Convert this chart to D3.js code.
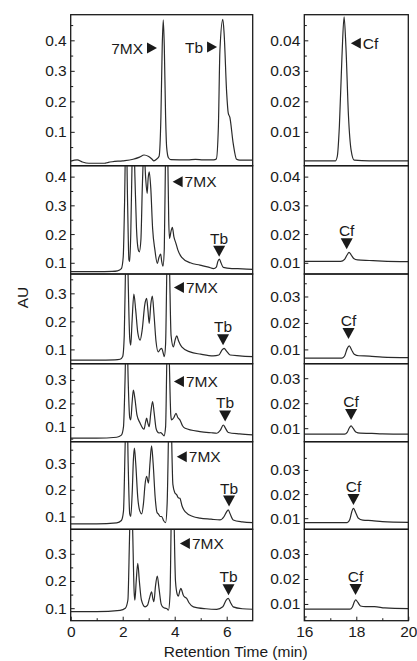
<!DOCTYPE html>
<html>
<head>
<meta charset="utf-8">
<script src="https://cdn.jsdelivr.net/npm/d3@7"></script>
<style>
  body { margin: 0; background: #fff; }
  text { font-family: "Liberation Sans", Arial, sans-serif; fill: #1a1a1a; }
</style>
</head>
<body>
<div id="chart-area"></div>
<script>
// ---- data: [retention time (min), AU] ----
const leftTrace1 = [[0,0.004],[0.25,0.008],[0.45,0.001],[0.7,-0.003],[1.3,-0.003],[1.45,0.0],[1.6,0.002],[2.0,0.005],[2.4,0.01],[2.65,0.017],[2.82,0.024],[3.0,0.019],[3.12,0.011],[3.2,0.005],[3.3,0.01],[3.4,0.02],[3.47,0.15],[3.52,0.38],[3.56,0.467],[3.6,0.38],[3.65,0.15],[3.69,0.05],[3.76,0.015],[3.85,0.009],[4.5,0.008],[4.8,0.01],[5.1,0.008],[5.5,0.008],[5.6,0.011],[5.68,0.117],[5.74,0.368],[5.85,0.469],[5.9,0.423],[6.0,0.226],[6.06,0.161],[6.12,0.148],[6.25,0.062],[6.38,0.01],[6.5,0.007],[7,0.007]];
const leftTrace2 = [[0,0.069],[1.0,0.069],[1.6,0.07],[1.8,0.072],[1.95,0.08],[2.02,0.12],[2.07,0.3],[2.13,0.6],[2.19,0.3],[2.24,0.11],[2.27,0.105],[2.31,0.2],[2.36,0.45],[2.41,0.6],[2.47,0.4],[2.53,0.22],[2.6,0.145],[2.64,0.138],[2.7,0.18],[2.76,0.38],[2.82,0.5],[2.88,0.4],[2.94,0.342],[2.98,0.395],[3.02,0.417],[3.08,0.36],[3.15,0.22],[3.24,0.144],[3.33,0.098],[3.4,0.12],[3.46,0.13],[3.5,0.105],[3.55,0.088],[3.6,0.15],[3.65,0.5],[3.69,0.7],[3.73,0.5],[3.77,0.25],[3.8,0.185],[3.86,0.21],[3.91,0.223],[3.97,0.19],[4.05,0.167],[4.12,0.145],[4.27,0.119],[4.6,0.1],[4.97,0.092],[5.3,0.085],[5.5,0.08],[5.6,0.085],[5.66,0.105],[5.72,0.113],[5.78,0.1],[5.87,0.084],[6.2,0.08],[6.6,0.079],[7,0.077]];
const leftTrace3 = [[0,0.062],[1.0,0.062],[1.7,0.063],[1.9,0.065],[2.0,0.075],[2.06,0.15],[2.11,0.4],[2.16,0.6],[2.21,0.35],[2.27,0.14],[2.31,0.115],[2.36,0.2],[2.43,0.297],[2.5,0.24],[2.58,0.16],[2.67,0.133],[2.75,0.17],[2.85,0.26],[2.92,0.282],[2.97,0.24],[3.02,0.193],[3.08,0.26],[3.14,0.29],[3.2,0.23],[3.28,0.13],[3.37,0.091],[3.44,0.1],[3.5,0.104],[3.55,0.09],[3.6,0.074],[3.65,0.12],[3.7,0.4],[3.75,0.6],[3.8,0.4],[3.86,0.15],[3.95,0.109],[4.02,0.135],[4.08,0.148],[4.15,0.13],[4.27,0.109],[4.59,0.091],[5.0,0.083],[5.48,0.077],[5.7,0.08],[5.8,0.095],[5.9,0.104],[6.0,0.093],[6.13,0.08],[6.5,0.077],[7,0.074]];
const leftTrace4 = [[0,0.052],[1.0,0.052],[1.77,0.056],[1.95,0.065],[2.03,0.1],[2.09,0.3],[2.15,0.6],[2.21,0.3],[2.27,0.14],[2.31,0.13],[2.36,0.2],[2.41,0.257],[2.47,0.22],[2.55,0.15],[2.67,0.116],[2.82,0.09],[2.88,0.12],[2.92,0.137],[2.97,0.115],[3.02,0.101],[3.08,0.16],[3.15,0.208],[3.21,0.16],[3.28,0.095],[3.33,0.08],[3.4,0.074],[3.46,0.076],[3.52,0.07],[3.59,0.062],[3.65,0.1],[3.7,0.4],[3.75,0.6],[3.8,0.35],[3.85,0.15],[3.88,0.13],[3.97,0.14],[4.05,0.158],[4.12,0.14],[4.2,0.13],[4.3,0.105],[4.4,0.094],[4.97,0.08],[5.4,0.075],[5.62,0.073],[5.75,0.085],[5.87,0.108],[5.95,0.095],[6.06,0.076],[6.5,0.07],[7,0.066]];
const leftTrace5 = [[0,0.072],[1.0,0.072],[1.77,0.076],[1.95,0.085],[2.03,0.12],[2.09,0.35],[2.15,0.6],[2.21,0.3],[2.27,0.11],[2.31,0.1],[2.37,0.2],[2.41,0.31],[2.45,0.356],[2.5,0.3],[2.58,0.17],[2.66,0.12],[2.73,0.11],[2.8,0.15],[2.86,0.22],[2.92,0.25],[2.99,0.225],[3.05,0.3],[3.11,0.364],[3.17,0.3],[3.25,0.17],[3.32,0.115],[3.37,0.11],[3.44,0.1],[3.5,0.1],[3.57,0.085],[3.65,0.077],[3.71,0.15],[3.77,0.45],[3.82,0.65],[3.87,0.45],[3.93,0.22],[4.0,0.19],[4.08,0.181],[4.14,0.17],[4.2,0.168],[4.28,0.14],[4.4,0.118],[4.7,0.1],[4.97,0.094],[5.4,0.09],[5.74,0.087],[5.9,0.1],[6.0,0.118],[6.06,0.125],[6.13,0.11],[6.25,0.087],[6.6,0.08],[7,0.077]];
const leftTrace6 = [[0,0.087],[1.0,0.087],[1.9,0.092],[2.1,0.1],[2.2,0.13],[2.26,0.35],[2.32,0.6],[2.38,0.4],[2.44,0.16],[2.47,0.13],[2.52,0.2],[2.58,0.265],[2.64,0.2],[2.72,0.13],[2.86,0.105],[2.95,0.11],[3.04,0.14],[3.11,0.16],[3.16,0.135],[3.2,0.124],[3.26,0.18],[3.33,0.218],[3.4,0.17],[3.48,0.115],[3.56,0.103],[3.63,0.1],[3.69,0.099],[3.76,0.093],[3.82,0.15],[3.87,0.45],[3.92,0.65],[3.97,0.45],[4.03,0.2],[4.1,0.15],[4.14,0.144],[4.2,0.165],[4.24,0.173],[4.29,0.16],[4.33,0.148],[4.4,0.14],[4.46,0.136],[4.55,0.12],[4.72,0.105],[5.2,0.098],[5.62,0.096],[5.85,0.105],[5.98,0.13],[6.06,0.136],[6.14,0.122],[6.25,0.105],[6.6,0.098],[7,0.096]];

const rightTrace1 = [[16,0.0005],[17.2,0.0005],[17.27,0.002],[17.35,0.012],[17.45,0.035],[17.53,0.0477],[17.6,0.038],[17.7,0.015],[17.8,0.004],[17.92,0.0007],[18.5,0.0005],[20,0.0005]];
const rightTrace2 = [[16,0.0105],[17.4,0.0105],[17.55,0.0112],[17.65,0.0128],[17.72,0.0136],[17.8,0.0128],[17.9,0.0115],[18.05,0.011],[18.5,0.0108],[19,0.0106],[20,0.0104]];
const rightTrace3 = [[16,0.0067],[17.45,0.0067],[17.55,0.0075],[17.65,0.0103],[17.73,0.0113],[17.82,0.0098],[17.92,0.0082],[18.1,0.0076],[18.5,0.0075],[19,0.0071],[20,0.0069]];
const rightTrace4 = [[16,0.0076],[17.55,0.0076],[17.65,0.0083],[17.73,0.0101],[17.8,0.0109],[17.88,0.0099],[17.98,0.0085],[18.15,0.008],[18.6,0.0079],[19,0.0077],[20,0.0076]];
const rightTrace5 = [[16,0.0082],[17.65,0.0082],[17.75,0.0095],[17.83,0.0128],[17.89,0.0141],[17.97,0.0125],[18.07,0.0101],[18.25,0.0092],[18.6,0.009],[19,0.0086],[20,0.0083]];
const rightTrace6 = [[16,0.0079],[17.75,0.0079],[17.85,0.0088],[17.93,0.011],[17.98,0.0116],[18.06,0.0106],[18.16,0.0092],[18.35,0.0089],[18.7,0.0089],[19.1,0.0084],[20,0.0081]];

const leftTraces = [leftTrace1, leftTrace2, leftTrace3, leftTrace4, leftTrace5, leftTrace6];
const rightTraces = [rightTrace1, rightTrace2, rightTrace3, rightTrace4, rightTrace5, rightTrace6];

// y ranges of each stacked panel (AU)
const leftDomains = [[-0.011, 0.484], [0.061, 0.438], [0.049, 0.369], [0.037, 0.369], [0.052, 0.38], [0.054, 0.39]];
const rightDomains = [[-0.0011, 0.0484], [0.0061, 0.0438], [0.0046, 0.0385], [0.0046, 0.0358], [0.0054, 0.0417], [0.0033, 0.0399]];

// tick labels
const leftMajorTicks = [[0.1, 0.2, 0.3, 0.4], [0.1, 0.2, 0.3, 0.4], [0.1, 0.2, 0.3], [0.1, 0.2, 0.3], [0.1, 0.2, 0.3], [0.1, 0.2, 0.3]];
const rightMajorTicks = [[0.01, 0.02, 0.03, 0.04], [0.01, 0.02, 0.03, 0.04], [0.01, 0.02, 0.03], [0.01, 0.02, 0.03], [0.01, 0.02, 0.03], [0.01, 0.02, 0.03]];
const leftMinorTicks = [0.05, 0.15, 0.25, 0.35, 0.45];
const rightMinorTicks = [0.005, 0.015, 0.025, 0.035, 0.045];
const leftTimeTicks = [0, 2, 4, 6];
const leftTimeMinor = [1, 3, 5];
const rightTimeTicks = [16, 18, 20];
const rightTimeMinor = [17, 19];

// peak markers [time, AU] of the arrow tip
const marks7MX = [[3.32, 0.375], [3.92, 0.382], [3.97, 0.321], [3.97, 0.293], [4.08, 0.324], [4.2, 0.338]];
const marksTb = [[5.63, 0.378], [5.71, 0.121], [5.86, 0.115], [5.94, 0.123], [6.09, 0.137], [6.07, 0.148]];
const marksCf = [[17.79, 0.039], [17.63, 0.0147], [17.7, 0.0139], [17.8, 0.0133], [17.89, 0.0155], [17.97, 0.0136]];

// ---- layout ----
const svgWidth = 417, svgHeight = 661;
const panelEdges = [14.7, 165.7, 274, 363.7, 441.7, 529.3, 620.7];
const ink = "#1a1a1a";

const svg = d3.select("#chart-area")
	.append("svg")
	.attr("width", svgWidth)
	.attr("height", svgHeight);

const xLeft = d3.scaleLinear().domain([0, 7]).range([70.7, 252.7]);
const xRight = d3.scaleLinear().domain([16, 20]).range([304.3, 408.3]);

const line = (x, y) => d3.line()
	.x(d => x(d[0]))
	.y(d => y(d[1]))
	.curve(d3.curveMonotoneX);

function sideArrow(g, x, y, dir, label) {
	// dir 1: pointing right (label on the left), -1: pointing left
	const w = 10, h = 11;
	g.append("path")
		.attr("d", `M${x},${y} L${x - dir * w},${y - h / 2} L${x - dir * w},${y + h / 2} Z`)
		.attr("fill", ink);
	g.append("text")
		.attr("x", dir === 1 ? x - w - 4 : x + w + 2)
		.attr("y", y)
		.attr("dy", "0.36em")
		.attr("font-size", "15.5px")
		.attr("text-anchor", dir === 1 ? "end" : "start")
		.text(label);
}

function downArrow(g, x, y, label) {
	const w = 12, h = 11;
	g.append("path")
		.attr("d", `M${x},${y} L${x - w / 2},${y - h} L${x + w / 2},${y - h} Z`)
		.attr("fill", ink);
	g.append("text")
		.attr("x", x)
		.attr("y", y - h - 2)
		.attr("font-size", "15.5px")
		.attr("text-anchor", "middle")
		.text(label);
}

function drawPanel(i, x, yDomain, trace, majors, minors, fmt, clipId) {
	const top = panelEdges[i], bottom = panelEdges[i + 1];
	const y = d3.scaleLinear().domain(yDomain).range([bottom, top]);
	const g = svg.append("g");

	g.append("clipPath").attr("id", clipId)
		.append("rect")
		.attr("x", x.range()[0]).attr("y", top)
		.attr("width", x.range()[1] - x.range()[0]).attr("height", bottom - top);

	g.append("path")
		.datum(trace)
		.attr("clip-path", `url(#${clipId})`)
		.attr("fill", "none")
		.attr("stroke", "#2a2a2a")
		.attr("stroke-width", 1.2)
		.attr("d", line(x, y));

	const px = (v) => y(v);
	const inside = minors.filter(v => px(v) < bottom - 2 && px(v) > top + 2);

	const yAxis = g.append("g")
		.attr("transform", `translate(${x.range()[0]}, 0)`)
		.call(d3.axisLeft(y).tickValues(majors).tickFormat(d3.format(fmt))
			.tickSizeInner(-4).tickSizeOuter(0).tickPadding(4));
	yAxis.select(".domain").remove();
	yAxis.selectAll("text").attr("font-size", "15.5px").attr("font-family", null).style("fill", ink);
	yAxis.selectAll("line").attr("stroke", ink);

	const yMinor = g.append("g")
		.attr("transform", `translate(${x.range()[0]}, 0)`)
		.call(d3.axisLeft(y).tickValues(inside).tickFormat("").tickSizeInner(-2.5).tickSizeOuter(0));
	yMinor.select(".domain").remove();
	yMinor.selectAll("line").attr("stroke", ink);

	g.append("rect")
		.attr("x", x.range()[0]).attr("y", top)
		.attr("width", x.range()[1] - x.range()[0]).attr("height", bottom - top)
		.attr("fill", "none")
		.attr("stroke", ink)
		.attr("stroke-width", 1.3);

	return {g, y};
}

leftTraces.forEach((trace, i) => {
	const p = drawPanel(i, xLeft, leftDomains[i], trace, leftMajorTicks[i], leftMinorTicks, ".1f", "clipL" + i);
	const m7 = marks7MX[i], mt = marksTb[i];
	if (i === 0) {
		sideArrow(p.g, xLeft(m7[0]), p.y(m7[1]), 1, "7MX");
		sideArrow(p.g, xLeft(mt[0]), p.y(mt[1]), 1, "Tb");
	} else {
		sideArrow(p.g, xLeft(m7[0]), p.y(m7[1]), -1, "7MX");
		downArrow(p.g, xLeft(mt[0]), p.y(mt[1]), "Tb");
	}
});

rightTraces.forEach((trace, i) => {
	const p = drawPanel(i, xRight, rightDomains[i], trace, rightMajorTicks[i], rightMinorTicks, ".2f", "clipR" + i);
	const mc = marksCf[i];
	if (i === 0) {
		sideArrow(p.g, xRight(mc[0]), p.y(mc[1]), -1, "Cf");
	} else {
		downArrow(p.g, xRight(mc[0]), p.y(mc[1]), "Cf");
	}
});

// time axes under the last row
function timeAxis(x, majors, minors) {
	const base = panelEdges[panelEdges.length - 1];
	const ax = svg.append("g")
		.attr("transform", `translate(0, ${base})`)
		.call(d3.axisBottom(x).tickValues(majors).tickFormat(d3.format("d"))
			.tickSizeInner(-4).tickSizeOuter(0).tickPadding(5));
	ax.select(".domain").remove();
	ax.selectAll("text").attr("font-size", "15.5px").attr("font-family", null).style("fill", ink);
	ax.selectAll("line").attr("stroke", ink);
	const mn = svg.append("g")
		.attr("transform", `translate(0, ${base})`)
		.call(d3.axisBottom(x).tickValues(minors).tickFormat("").tickSizeInner(-2.5).tickSizeOuter(0));
	mn.select(".domain").remove();
	mn.selectAll("line").attr("stroke", ink);
}
timeAxis(xLeft, leftTimeTicks, leftTimeMinor);
timeAxis(xRight, rightTimeTicks, rightTimeMinor);

// axis titles
svg.append("text")
	.attr("x", 235.7)
	.attr("y", 657)
	.attr("font-size", "15.5px")
	.attr("text-anchor", "middle")
	.text("Retention Time (min)");

svg.append("text")
	.attr("transform", "translate(28.3, 297.5) rotate(-90)")
	.attr("font-size", "15.5px")
	.attr("text-anchor", "middle")
	.text("AU");
</script>
</body>
</html>
